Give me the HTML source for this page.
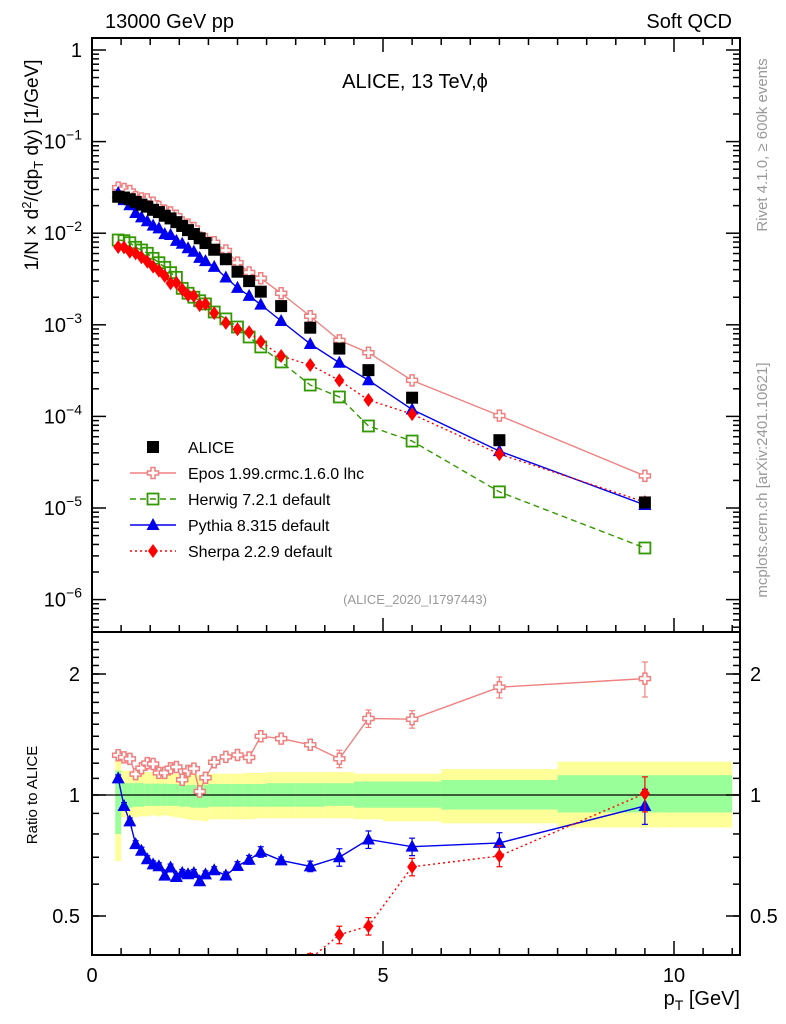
<!DOCTYPE html>
<html><head><meta charset="utf-8"><style>
html,body{margin:0;padding:0;background:#fff;overflow:hidden;width:786px;height:1024px;position:relative;}
svg{display:block;position:absolute;left:0;top:0;font-family:"Liberation Sans",sans-serif;}
</style></head><body>
<svg id="chart" width="786" height="1024" viewBox="0 0 786 1024">
<defs>
<clipPath id="clipMain"><rect x="92" y="38" width="648" height="594"/></clipPath>
<clipPath id="clipRatio"><rect x="92" y="632" width="648" height="323"/></clipPath>
</defs>
<g id="bands" clip-path="url(#clipRatio)"></g>
<line x1="92" y1="795" x2="740" y2="795" stroke="#000" stroke-width="1.3"/>
<g id="mainMarks" clip-path="url(#clipMain)"></g>
<g id="ratioMarks" clip-path="url(#clipRatio)"></g>
<g id="axes"></g>
<rect x="92" y="38" width="648" height="594" fill="none" stroke="#000" stroke-width="2"/>
<rect x="92" y="632" width="648" height="323" fill="none" stroke="#000" stroke-width="2"/>
<text x="105" y="28" font-size="20">13000 GeV pp</text>
<text x="732" y="28" font-size="20" text-anchor="end">Soft QCD</text>
<text x="415" y="88" font-size="20" text-anchor="middle">ALICE, 13 TeV,ϕ</text>
<text x="415" y="604" font-size="13" fill="#999" text-anchor="middle">(ALICE_2020_I1797443)</text>
<text transform="translate(767,145) rotate(-90)" font-size="15" fill="#999" text-anchor="middle">Rivet 4.1.0, ≥ 600k events</text>
<text transform="translate(767,480) rotate(-90)" font-size="15" fill="#999" text-anchor="middle">mcplots.cern.ch [arXiv:2401.10621]</text>
<text transform="translate(38,165) rotate(-90)" font-size="19" text-anchor="middle">1/N × d<tspan font-size="13" dy="-7">2</tspan><tspan dy="7">/(dp</tspan><tspan font-size="13" dy="5">T</tspan><tspan dy="-5"> dy) [1/GeV]</tspan></text>
<text transform="translate(37,795) rotate(-90)" font-size="15" text-anchor="middle">Ratio to ALICE</text>
<text x="740" y="1005" font-size="20" text-anchor="end">p<tspan font-size="14" dy="5">T</tspan><tspan dy="-5"> [GeV]</tspan></text>
<g id="legend"></g>
</svg>
<script>
const pt = [0.45,0.55,0.65,0.75,0.85,0.95,1.05,1.15,1.25,1.35,1.45,1.55,1.65,1.75,1.85,1.95,2.1,2.3,2.5,2.7,2.9,3.25,3.75,4.25,4.75,5.5,7,9.5];
const binEdges = [0.4,0.5,0.6,0.7,0.8,0.9,1.0,1.1,1.2,1.3,1.4,1.5,1.6,1.7,1.8,1.9,2.0,2.2,2.4,2.6,2.8,3.0,3.5,4.0,4.5,5.0,6.0,8.0,11.0];
const alice = [2.5e-2,2.45e-2,2.35e-2,2.2e-2,2.05e-2,1.95e-2,1.8e-2,1.7e-2,1.55e-2,1.45e-2,1.32e-2,1.2e-2,1.08e-2,9.8e-3,8.8e-3,7.8e-3,6.6e-3,5.2e-3,3.8e-3,3.0e-3,2.3e-3,1.6e-3,9.3e-4,5.5e-4,3.2e-4,1.6e-4,5.5e-5,1.15e-5];
const epos = [3.14e-2,3.04e-2,2.89e-2,2.48e-2,2.39e-2,2.34e-2,2.15e-2,1.93e-2,1.76e-2,1.69e-2,1.55e-2,1.31e-2,1.24e-2,1.14e-2,8.98e-3,8.61e-3,7.96e-3,6.47e-3,4.78e-3,3.72e-3,3.22e-3,2.21e-3,1.24e-3,6.77e-4,4.96e-4,2.47e-4,1.02e-4,2.24e-5];
const herwig = [8.43e-3,8.28e-3,7.87e-3,7.02e-3,6.56e-3,6.04e-3,5.32e-3,4.76e-3,4.24e-3,3.71e-3,3.30e-3,2.50e-3,2.21e-3,2.00e-3,1.83e-3,1.69e-3,1.38e-3,1.16e-3,9.46e-4,7.36e-4,5.73e-4,3.93e-4,2.20e-4,1.63e-4,7.86e-5,5.38e-5,1.50e-5,3.66e-6];
const pythia = [2.75e-2,2.30e-2,2.02e-2,1.66e-2,1.49e-2,1.35e-2,1.21e-2,1.13e-2,9.77e-3,9.57e-3,8.25e-3,7.68e-3,6.86e-3,6.27e-3,5.37e-3,4.95e-3,4.29e-3,3.28e-3,2.53e-3,2.07e-3,1.66e-3,1.10e-3,6.18e-4,3.85e-4,2.48e-4,1.19e-4,4.18e-5,1.08e-5];
const sherpa = [7.07e-3,7.0e-3,6.28e-3,6.03e-3,5.46e-3,4.89e-3,4.31e-3,3.90e-3,3.41e-3,2.84e-3,2.88e-3,2.44e-3,2.11e-3,2.06e-3,1.64e-3,1.69e-3,1.34e-3,1.05e-3,8.93e-4,8.28e-4,6.54e-4,4.56e-4,3.64e-4,2.47e-4,1.51e-4,1.06e-4,3.88e-5,1.16e-5];
const mcRelErr = [0.02,0.02,0.02,0.02,0.02,0.02,0.02,0.02,0.02,0.02,0.02,0.02,0.02,0.02,0.02,0.02,0.02,0.02,0.025,0.025,0.03,0.02,0.03,0.05,0.05,0.05,0.06,0.1];
const greenHi = [1.15,1.07,1.07,1.07,1.07,1.067,1.067,1.067,1.067,1.065,1.065,1.065,1.06,1.06,1.06,1.06,1.065,1.065,1.065,1.065,1.065,1.07,1.07,1.07,1.08,1.08,1.09,1.12];
const greenLo = [0.80,0.93,0.93,0.935,0.935,0.94,0.94,0.94,0.94,0.94,0.94,0.935,0.935,0.93,0.93,0.93,0.935,0.935,0.935,0.935,0.935,0.935,0.935,0.94,0.93,0.93,0.92,0.905];
const yellowHi = [1.26,1.15,1.15,1.15,1.14,1.14,1.14,1.135,1.135,1.13,1.13,1.13,1.125,1.125,1.12,1.12,1.13,1.13,1.13,1.135,1.135,1.14,1.14,1.14,1.13,1.13,1.16,1.21];
const yellowLo = [0.685,0.88,0.875,0.88,0.885,0.885,0.89,0.885,0.89,0.885,0.88,0.875,0.87,0.865,0.865,0.86,0.87,0.87,0.87,0.87,0.875,0.875,0.875,0.875,0.87,0.86,0.85,0.83];
const yTicks = ["1","10","10","10","10","10","10"];
const yExps = ["","−1","−2","−3","−4","−5","−6"];
const rTicks = [0.5,1,2];
const xTicks = [0,5,10];

const NS="http://www.w3.org/2000/svg";
const X = p => 92 + p*58.2;
const Y = v => 50 - 91.6*Math.log10(v);
const R = r => 795 - 121*Math.log2(r);
function mk(tag, attrs, parent){const e=document.createElementNS(NS,tag);for(const k in attrs)e.setAttribute(k,attrs[k]);parent.appendChild(e);return e;}

const bands=document.getElementById('bands');
for(let i=0;i<binEdges.length-1;i++){
  const x0=X(binEdges[i]), x1=X(binEdges[i+1]);
  const yb=mk('rect',{x:x0,y:R(yellowHi[i]),width:x1-x0,height:R(yellowLo[i])-R(yellowHi[i]),fill:'#ffff99'},bands);
  
  
  const gb=mk('rect',{x:x0,y:R(greenHi[i]),width:x1-x0,height:R(greenLo[i])-R(greenHi[i]),fill:'#99ff99'},bands);
  
  
}

function marker(g,type,x,y,color){
  let e;
  if(type==='square') e=mk('rect',{x:x-6,y:y-6,width:12,height:12,fill:'#000'},g);
  else if(type==='opensquare') e=mk('rect',{x:x-5.5,y:y-5.5,width:11,height:11,fill:'none',stroke:color,'stroke-width':1.8},g);
  else if(type==='tri') e=mk('polygon',{points:`${x},${y-7} ${x-6.5},${y+5} ${x+6.5},${y+5}`,fill:color},g);
  else if(type==='diamond') e=mk('polygon',{points:`${x},${y-7} ${x-5},${y} ${x},${y+7} ${x+5},${y}`,fill:color},g);
  else if(type==='cross'){const a=2,b=5.5;e=mk('polygon',{points:`${x-a},${y-b} ${x+a},${y-b} ${x+a},${y-a} ${x+b},${y-a} ${x+b},${y+a} ${x+a},${y+a} ${x+a},${y+b} ${x-a},${y+b} ${x-a},${y+a} ${x-b},${y+a} ${x-b},${y-a} ${x-a},${y-a}`,fill:'#fff',stroke:color,'stroke-width':1.5},g);}
  return e;
}
const series=[
 {name:'epos',vals:epos,color:'#f08080',type:'cross',dash:'',label:'Epos 1.99.crmc.1.6.0 lhc'},
 {name:'herwig',vals:herwig,color:'#339900',type:'opensquare',dash:'6,4',label:'Herwig 7.2.1 default'},
 {name:'pythia',vals:pythia,color:'#0000ee',type:'tri',dash:'',label:'Pythia 8.315 default'},
 {name:'sherpa',vals:sherpa,color:'#ff0000',type:'diamond',dash:'2,3',label:'Sherpa 2.2.9 default'}
];
const mainG=document.getElementById('mainMarks'), ratioG=document.getElementById('ratioMarks');
series.forEach(s=>{
  const gm=mk('g',{},mainG);
  
  
  mk('polyline',{points:pt.map((p,i)=>X(p)+','+Y(s.vals[i])).join(' '),fill:'none',stroke:s.color,'stroke-width':1.4,'stroke-dasharray':s.dash},gm);
  pt.forEach((p,i)=>{const m=marker(gm,s.type,X(p),Y(s.vals[i]),s.color);
    
    });
  const gr=mk('g',{},ratioG);
  
  
  const rat=pt.map((p,i)=>s.vals[i]/alice[i]);
  mk('polyline',{points:pt.map((p,i)=>X(p)+','+R(rat[i])).join(' '),fill:'none',stroke:s.color,'stroke-width':1.4,'stroke-dasharray':s.dash},gr);
  pt.forEach((p,i)=>{
    const x=X(p),hi=R(rat[i]*(1+mcRelErr[i])),lo=R(rat[i]*(1-mcRelErr[i]));
    mk('line',{x1:x,y1:hi,x2:x,y2:lo,stroke:s.color,'stroke-width':1.2},gr);
    mk('line',{x1:x-3,y1:hi,x2:x+3,y2:hi,stroke:s.color,'stroke-width':1.2},gr);
    mk('line',{x1:x-3,y1:lo,x2:x+3,y2:lo,stroke:s.color,'stroke-width':1.2},gr);
    const m=marker(gr,s.type,x,R(rat[i]),s.color);
    
    });
});
const ga=mk('g',{},mainG);


pt.forEach((p,i)=>{const m=marker(ga,'square',X(p),Y(alice[i]),'#000');
  
  });

const ax=document.getElementById('axes');
const L=(x1,y1,x2,y2)=>mk('line',{x1,y1,x2,y2,stroke:'#000','stroke-width':1.5},ax);
for(let d=0;d>=-7;d--){
  const yv=Y(Math.pow(10,d));
  if(yv>=38&&yv<=632){L(92,yv,106,yv);L(740,yv,726,yv);}
  for(let k=2;k<=9;k++){const y=Y(k*Math.pow(10,d-1));if(y>=38&&y<=632){L(92,y,99,y);L(740,y,733,y);}}
}
yTicks.forEach((t,i)=>{
  const y=Y(Math.pow(10,-i));
  const tx=mk('text',{x:82,y:y+7,'font-size':20,'text-anchor':'end'},ax);
  const t1=mk('tspan',{},tx);t1.textContent=t;
  if(yExps[i]){const ts=mk('tspan',{'font-size':14,dy:-9},tx);ts.textContent=yExps[i];}
  
  
});
for(let r=0.4;r<=2.5;r+=0.1){const y=R(r);if(y>632&&y<955){L(92,y,99,y);L(740,y,733,y);}}
rTicks.forEach(r=>{const y=R(r);L(92,y,106,y);L(740,y,726,y);
  const a=mk('text',{x:80,y:y+7,'font-size':20,'text-anchor':'end'},ax);a.textContent=String(r);
  
  
  const b=mk('text',{x:750,y:y+7,'font-size':20},ax);b.textContent=String(r);
  
  });
for(let p=0;p<=11;p+=0.5){const x=X(p);const len=(p%5===0)?14:7;
  L(x,955,x,955-len);L(x,632,x,632-len);L(x,38,x,38+len);}
xTicks.forEach(p=>{const t=mk('text',{x:X(p),y:982,'font-size':20,'text-anchor':'middle'},ax);t.textContent=p;
  
  });

const lg=document.getElementById('legend');
const rows=[{label:'ALICE',type:'square',color:'#000',dash:null}].concat(series);
rows.forEach((s,i)=>{
  const y=447+i*26;
  const g=mk('g',{},lg);
  
  
  if(s.dash!==null) mk('line',{x1:130,y1:y,x2:176,y2:y,stroke:s.color,'stroke-width':1.4,'stroke-dasharray':s.dash},g);
  marker(g,s.type,153,y,s.color);
  const t=mk('text',{x:188,y:y+6,'font-size':16},g);t.textContent=s.label;
});
</script>
</body></html>
